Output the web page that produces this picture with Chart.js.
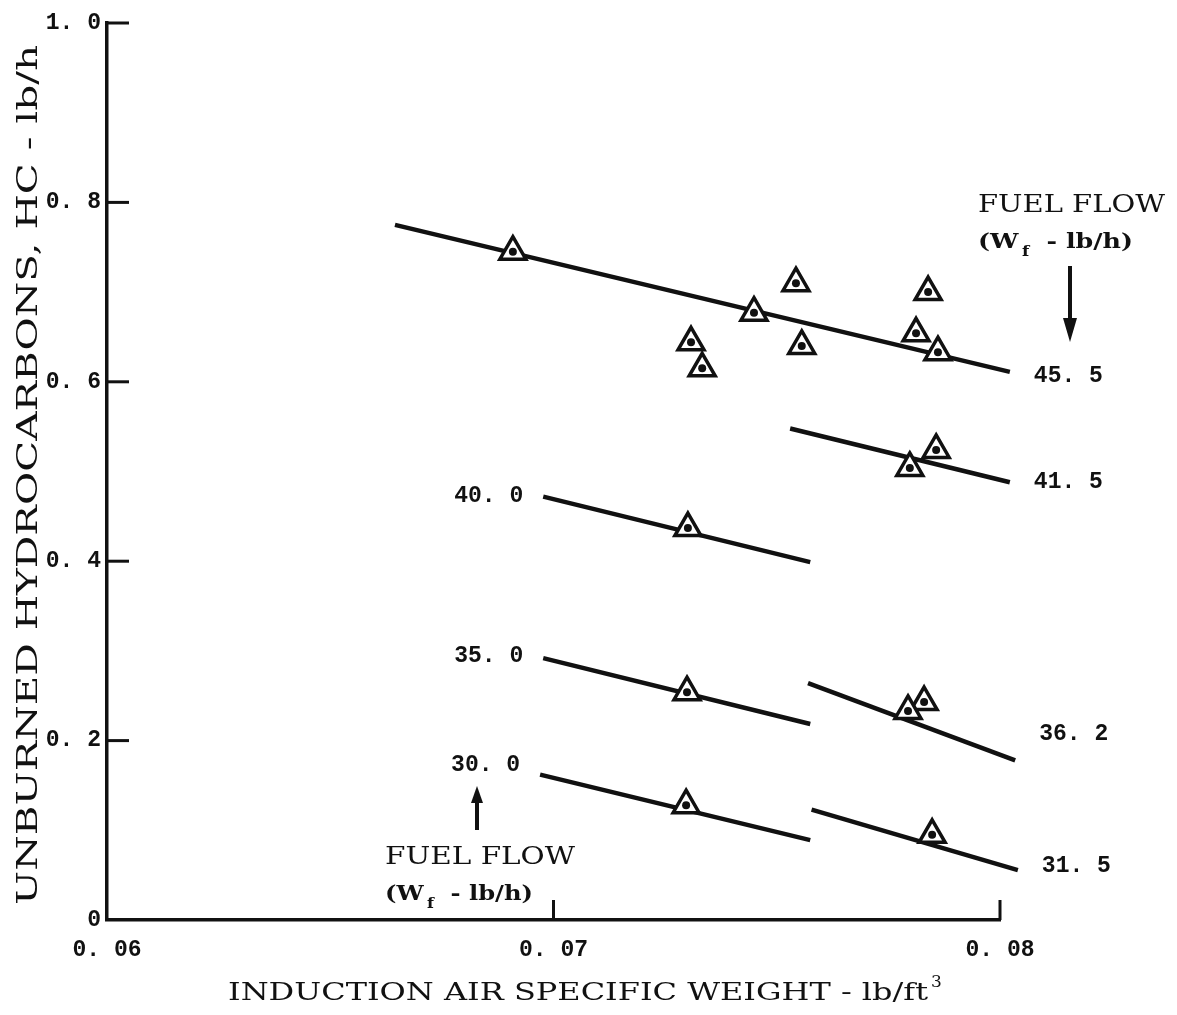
<!DOCTYPE html>
<html>
<head>
<meta charset="utf-8">
<script src="https://cdn.jsdelivr.net/npm/chart.js@4.4.1/dist/chart.umd.min.js"></script>
<style>
  html, body { margin: 0; padding: 0; background: #fff; }
  #wrap { width: 1177px; height: 1015px; position: relative; }
</style>
</head>
<body>
<div id="wrap"><canvas id="hcChart"></canvas></div>
<script>
// Axis ticks
const xTickValues = [0.06, 0.07, 0.08];
const xTickLabels = ['0. 06', '0. 07', '0. 08'];
const yTickValues = [0, 0.2, 0.4, 0.6, 0.8, 1.0];
const yTickLabels = ['0', '0. 2', '0. 4', '0. 6', '0. 8', '1. 0'];

// Fuel flow lines (lb/h) - start / end points
const flowLabels = ['45. 5', '41. 5', '40. 0', '35. 0', '36. 2', '30. 0', '31. 5'];
const flowStartX = [0.06645, 0.07530, 0.06977, 0.06977, 0.07570, 0.06970, 0.07578];
const flowStartY = [0.775, 0.548, 0.472, 0.292, 0.264, 0.162, 0.123];
const flowEndX   = [0.08022, 0.08022, 0.07575, 0.07575, 0.08034, 0.07575, 0.08040];
const flowEndY   = [0.611, 0.488, 0.399, 0.2185, 0.178, 0.089, 0.0557];
const flowLabelSide = ['right', 'right', 'left', 'left', 'right', 'left', 'right'];

// Measured points (triangles)
const measX = [0.06909, 0.07449, 0.07543, 0.07556, 0.07308, 0.07333, 0.07839, 0.07812, 0.07861,
               0.07857, 0.07798, 0.07301, 0.07299, 0.07830, 0.07794, 0.07297, 0.07848];
const measY = [0.745, 0.677, 0.710, 0.640, 0.644, 0.615, 0.700, 0.654, 0.633,
               0.524, 0.504, 0.437, 0.254, 0.243, 0.233, 0.128, 0.095];

const numFont = 'bold 23px "Liberation Mono", monospace';
const serifFont = '"DejaVu Serif", "Liberation Serif", serif';

const lineSets = flowLabels.map((lab, i) => ({
    type: 'line',
    label: lab,
    data: [{ x: flowStartX[i], y: flowStartY[i] }, { x: flowEndX[i], y: flowEndY[i] }],
    borderColor: '#111',
    borderWidth: 4.5,
    pointRadius: 0,
    clip: false,
    order: 3
}));

const measPoints = measX.map((x, i) => ({ x: x, y: measY[i] }));

// draw text stretched to a given width
function fitText(ctx, text, x, y, width) {
    const w = ctx.measureText(text).width;
    ctx.save();
    ctx.translate(x, y);
    ctx.scale(width / w, 1);
    ctx.fillText(text, 0, 0);
    ctx.restore();
}

// inward ticks, labels on the curves, fuel flow notes, axis titles
const decorPlugin = {
    id: 'decor',
    afterDraw(chart) {
        const ctx = chart.ctx;
        const xs = chart.scales.x, ys = chart.scales.y;
        const area = chart.chartArea;
        ctx.save();
        ctx.strokeStyle = '#111';
        ctx.fillStyle = '#111';
        ctx.lineWidth = 3;

        // y ticks pointing right
        yTickValues.forEach(v => {
            if (v === 0) return;
            const py = ys.getPixelForValue(v);
            ctx.beginPath();
            ctx.moveTo(area.left, py);
            ctx.lineTo(area.left + 22, py);
            ctx.stroke();
        });
        // x ticks pointing up
        xTickValues.forEach(v => {
            if (v === xTickValues[0]) return;
            const px = xs.getPixelForValue(v);
            ctx.beginPath();
            ctx.moveTo(px, area.bottom);
            ctx.lineTo(px, area.bottom - 20);
            ctx.stroke();
        });

        // curve labels
        ctx.font = numFont;
        ctx.textBaseline = 'middle';
        const labelDy = [4, 0, 0, -2, -26, -9, -4];
        flowLabels.forEach((lab, i) => {
            if (flowLabelSide[i] === 'right') {
                ctx.textAlign = 'left';
                ctx.fillText(lab, xs.getPixelForValue(flowEndX[i]) + 24, ys.getPixelForValue(flowEndY[i]) + labelDy[i]);
            } else {
                ctx.textAlign = 'right';
                ctx.fillText(lab, xs.getPixelForValue(flowStartX[i]) - 20, ys.getPixelForValue(flowStartY[i]) + labelDy[i]);
            }
        });

        // fuel flow notes
        function note(x, y, w1, w2) {
            ctx.textAlign = 'left';
            ctx.textBaseline = 'alphabetic';
            ctx.font = '24px ' + serifFont;
            fitText(ctx, 'FUEL FLOW', x, y, w1);
            ctx.font = 'bold 21px ' + serifFont;
            const a = ctx.measureText('(W').width;
            ctx.font = 'bold 14px ' + serifFont;
            const b = ctx.measureText('f').width + 10;
            ctx.font = 'bold 21px ' + serifFont;
            const c = ctx.measureText(' - lb/h)').width;
            const k = w2 / (a + b + c);
            ctx.save();
            ctx.translate(x, y + 36);
            ctx.scale(k, 1);
            ctx.fillText('(W', 0, 0);
            ctx.fillText(' - lb/h)', a + b, 0);
            ctx.font = 'bold 14px ' + serifFont;
            ctx.fillText('f', a + 3, 8);
            ctx.restore();
        }
        note(978, 212, 187, 155);
        note(385, 864, 190, 148);

        // arrows
        ctx.lineWidth = 4;
        ctx.beginPath();
        ctx.moveTo(1070, 266); ctx.lineTo(1070, 322); ctx.stroke();
        ctx.beginPath();
        ctx.moveTo(1063, 318); ctx.lineTo(1077, 318); ctx.lineTo(1070, 342); ctx.closePath(); ctx.fill();
        ctx.beginPath();
        ctx.moveTo(477, 830); ctx.lineTo(477, 800); ctx.stroke();
        ctx.beginPath();
        ctx.moveTo(471, 803); ctx.lineTo(483, 803); ctx.lineTo(477, 786); ctx.closePath(); ctx.fill();

        // x axis title
        ctx.font = '25px ' + serifFont;
        ctx.textAlign = 'left';
        ctx.textBaseline = 'alphabetic';
        fitText(ctx, 'INDUCTION AIR SPECIFIC WEIGHT - lb/ft', 228, 1000, 700);
        ctx.font = '17px ' + serifFont;
        ctx.fillText('3', 931, 987);

        // y axis title
        ctx.translate(37, 905);
        ctx.rotate(-Math.PI / 2);
        ctx.font = '27px ' + serifFont;
        fitText(ctx, 'UNBURNED HYDROCARBONS, HC - lb/h', 0, 0, 860);
        ctx.restore();
    }
};

new Chart(document.getElementById('hcChart'), {
    type: 'scatter',
    data: {
        datasets: [
            ...lineSets,
            {
                label: 'Measured',
                data: measPoints,
                pointStyle: 'triangle',
                pointRadius: 15,
                pointBorderWidth: 3.5,
                pointBackgroundColor: '#fff',
                pointBorderColor: '#111',
                clip: false,
                order: 2
            },
            {
                label: 'Measured dot',
                data: measPoints,
                pointStyle: 'circle',
                pointRadius: 4,
                pointBorderWidth: 0,
                pointBackgroundColor: '#111',
                clip: false,
                order: 1
            }
        ]
    },
    options: {
        responsive: true,
        maintainAspectRatio: false,
        animation: false,
        events: [],
        layout: { padding: { top: 23, right: 177, left: 0, bottom: 0 } },
        plugins: {
            legend: { display: false },
            tooltip: { enabled: false }
        },
        scales: {
            x: {
                type: 'linear',
                min: 0.06,
                max: 0.08,
                afterBuildTicks: (scale) => { scale.ticks = xTickValues.map(v => ({ value: v })); },
                afterFit: (scale) => { scale.height = 95; },
                ticks: {
                    padding: 16,
                    color: '#111',
                    font: { family: '"Liberation Mono", monospace', size: 23, weight: 'bold' },
                    callback: (v) => xTickLabels[xTickValues.indexOf(v)]
                },
                grid: { display: false, drawTicks: false },
                border: { display: true, color: '#111', width: 3.5 }
            },
            y: {
                type: 'linear',
                min: 0,
                max: 1.0,
                afterBuildTicks: (scale) => { scale.ticks = yTickValues.map(v => ({ value: v })); },
                afterFit: (scale) => { scale.width = 107; },
                ticks: {
                    padding: 6,
                    color: '#111',
                    font: { family: '"Liberation Mono", monospace', size: 23, weight: 'bold' },
                    callback: (v) => yTickLabels[yTickValues.indexOf(v)]
                },
                grid: { display: false, drawTicks: false },
                border: { display: true, color: '#111', width: 3.5 }
            }
        }
    },
    plugins: [decorPlugin]
});
</script>
</body>
</html>
